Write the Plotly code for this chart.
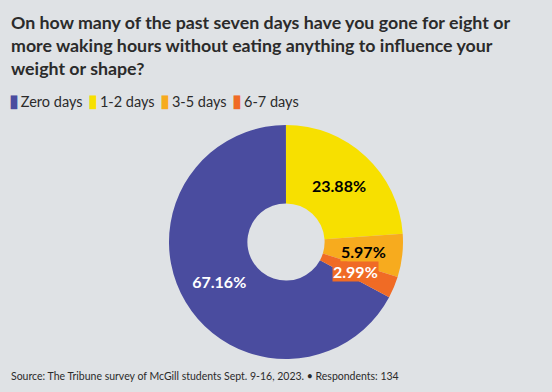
import math
import plotly.graph_objects as go

categories = ["Zero days", "1-2 days", "3-5 days", "6-7 days"]
values = [67.16, 23.88, 5.97, 2.99]
colors = ["#4a4c9f", "#f7e000", "#f7ab1e", "#f06b25"]
text_colors = ["white", "black", "black", "white"]

BG = "#dfe2e5"
FONT = "Lato"
INK = "#2b2b2b"
W, H = 552, 392

# pie geometry (layout)
CX, CY, R = 286, 242, 117
ROTATION = 118.2
small = {2, 3}
label_r = {2: 0.67, 3: 0.64}

fig = go.Figure(go.Pie(
    labels=categories,
    values=values,
    marker=dict(colors=colors),
    hole=0.33,
    sort=False,
    direction="clockwise",
    rotation=ROTATION,
    texttemplate=["" if i in small else "%{value:.2f}%" for i in range(len(values))],
    textposition="inside",
    insidetextorientation="horizontal",
    textfont=dict(family=FONT, size=16, color=text_colors, weight="bold"),
    domain=dict(x=[(CX - R) / W, (CX + R) / W], y=[1 - (CY + R) / H, 1 - (CY - R) / H]),
    showlegend=False,
    hoverinfo="label+percent",
))

annotations = []
# labels for the thin slices, placed at the slice mid-angle
total = sum(values)
cum = 0.0
for i, v in enumerate(values):
    mid = ROTATION + 360 * (cum + v / 2) / total
    cum += v
    if i not in small:
        continue
    a = math.radians(mid)
    rr = label_r[i] * R
    x = CX + rr * math.sin(a)
    y = CY - rr * math.cos(a)
    annotations.append(dict(
        text=f"<b>{v:.2f}%</b>", x=x / W, y=1 - y / H, xref="paper", yref="paper",
        xanchor="center", yanchor="middle",
        showarrow=False, bgcolor=colors[i], borderpad=0,
        font=dict(family=FONT, size=16, color=text_colors[i]),
    ))

title_text = ("On how many of the past seven days have you gone for eight or<br>"
              "more waking hours without eating anything to influence your<br>"
              "weight or shape?")
annotations.append(dict(
    text=f"<b>{title_text}</b>", x=9 / W, xanchor="left", y=1 - 9 / H, yanchor="top",
    xref="paper", yref="paper", showarrow=False, align="left",
    font=dict(family=FONT, size=17.8, color=INK),
))

THIN = "\u2009"
legend_text = (" " + THIN).join(
    f"<span style='color:{c};font-size:18px'>▮</span>{THIN}{name}" for name, c in zip(categories, colors)
)
annotations.append(dict(
    text=legend_text, x=7 / W, xanchor="left", y=1 - 100 / H, yanchor="middle",
    xref="paper", yref="paper", showarrow=False, align="left",
    font=dict(family=FONT, size=14.5, color=INK),
))

annotations.append(dict(
    text="Source: The Tribune survey of McGill students Sept. 9-16, 2023. • Respondents: 134",
    x=9 / W, xanchor="left", y=1 - 376 / H, yanchor="middle",
    xref="paper", yref="paper", showarrow=False,
    font=dict(family=FONT, size=10.5, color=INK),
))

fig.update_layout(
    width=W, height=H,
    paper_bgcolor=BG, plot_bgcolor=BG,
    margin=dict(l=0, r=0, t=0, b=0),
    showlegend=False,
    annotations=annotations,
)

fig.write_html("out.html", config={"displayModeBar": False},
               post_script="document.body.style.margin='0';")
